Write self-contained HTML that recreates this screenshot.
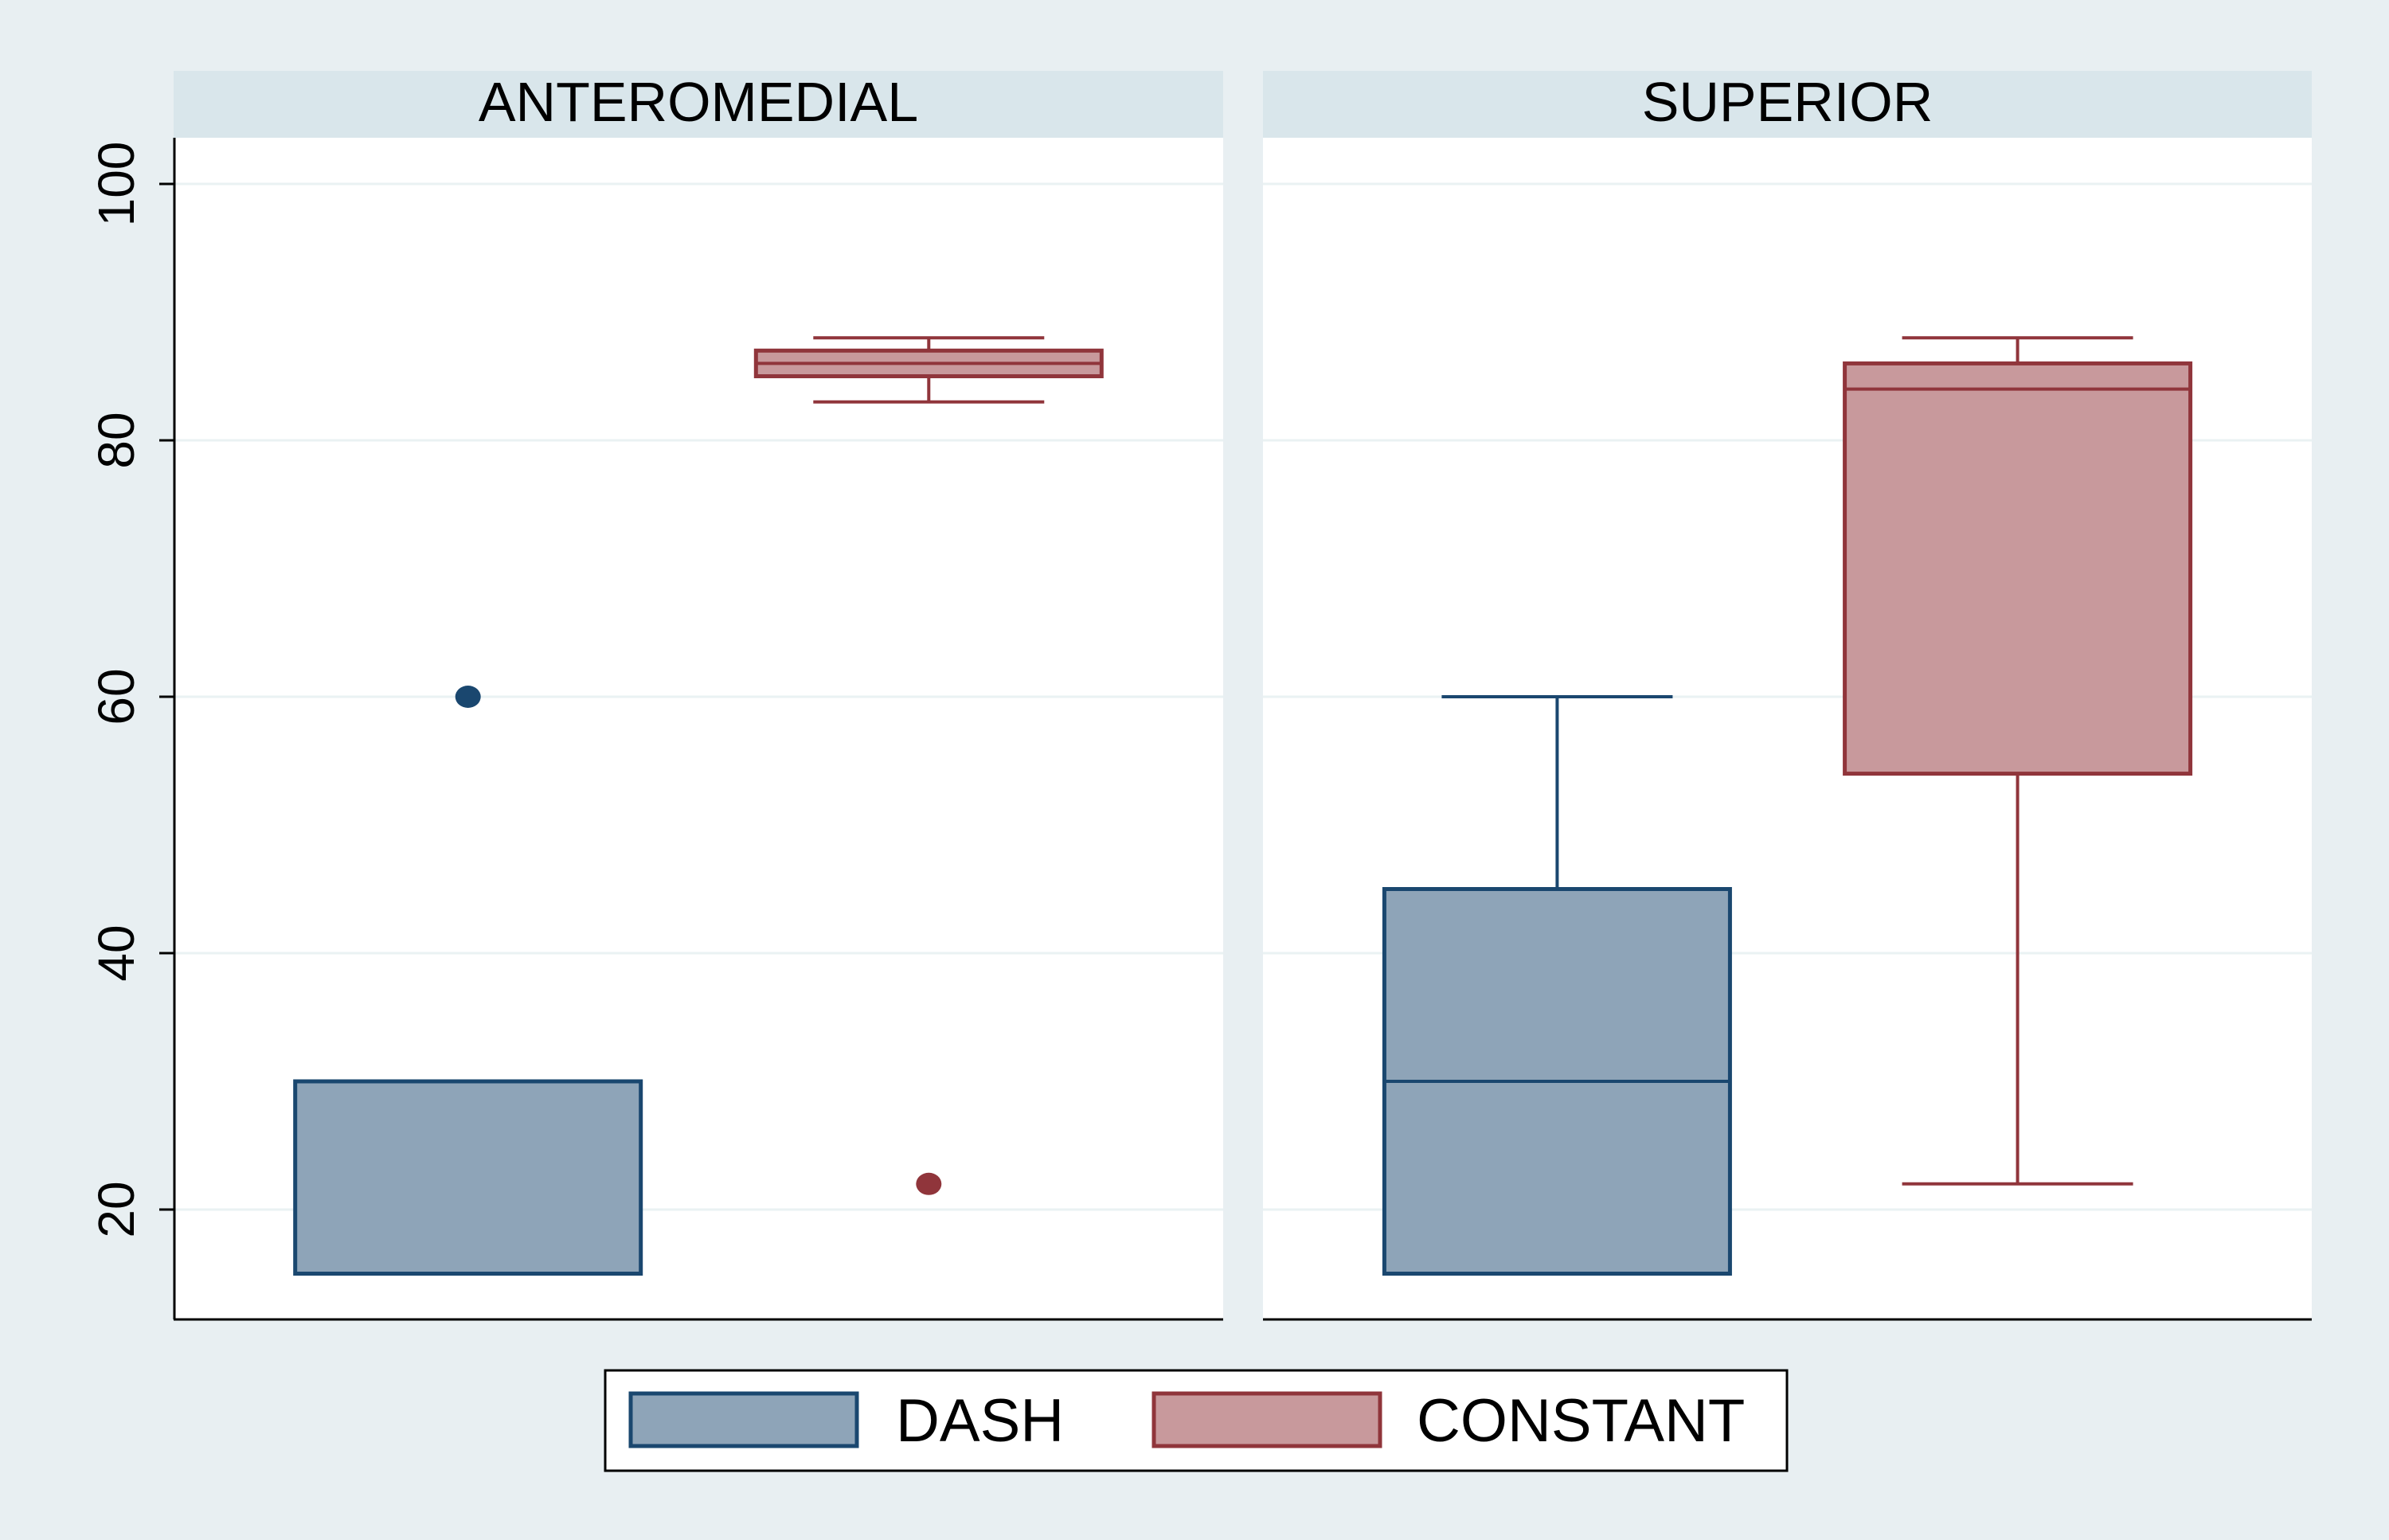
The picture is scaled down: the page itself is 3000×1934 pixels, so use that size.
<!DOCTYPE html>
<html><head><meta charset="utf-8"><style>
html,body{margin:0;padding:0;background:#e8eff2;}
svg{display:block;font-family:"Liberation Sans",sans-serif;}
</style></head><body>
<svg id="chart" width="3000" height="1934" viewBox="0 0 3000 1934">
<rect x="0" y="0" width="3000" height="1934" fill="#e8eff2"/>
<g id="g"></g>
</svg>
<script>
const panels = ["ANTEROMEDIAL", "SUPERIOR"];
const series = ["DASH", "CONSTANT"];
// [min whisker, q1, median, q3, max whisker]
const dashStats = [[15, 15, 15, 30, 30], [15, 15, 30, 45, 60]];
const constantStats = [[83, 85, 86, 87, 88], [22, 54, 84, 86, 88]];
const dashOutliers = [[60], []];
const constantOutliers = [[22], []];
const yTicks = [20, 40, 60, 80, 100];

const NS = "http://www.w3.org/2000/svg";
const g = document.getElementById("g");
function el(tag, attrs, parent) {
  const e = document.createElementNS(NS, tag);
  for (const k in attrs) e.setAttribute(k, attrs[k]);
  (parent || g).appendChild(e);
  return e;
}
const plotTop = 173, plotBottom = 1657;
function y(v) { return 1519 - (v - 20) * (1519 - 231) / 80; }
const panelX = [[218, 1536], [1586, 2903]];
const colors = {
  DASH: { fill: "#8ea4b8", stroke: "#1a476f" },
  CONSTANT: { fill: "#c8999c", stroke: "#90353b" }
};
const allStats = { DASH: dashStats, CONSTANT: constantStats };
const allOut = { DASH: dashOutliers, CONSTANT: constantOutliers };

panels.forEach((name, p) => {
  const [x0, x1] = panelX[p];
  const w = x1 - x0;
  const strip = el("rect", { x: x0, y: 89, width: w, height: 84, fill: "#d9e6eb" });
  
  
  const t = el("text", { x: x0 + w / 2, y: 152, "font-size": 70, "text-anchor": "middle", fill: "#000" });
  t.textContent = name;
  
  
  const pa = el("rect", { x: x0, y: plotTop, width: w, height: plotBottom - plotTop, fill: "#ffffff" });
  
  
  yTicks.forEach(v => {
    const gl = el("line", { x1: x0, x2: x1, y1: y(v), y2: y(v), stroke: "#eaf2f3", "stroke-width": 3 });
    
    
  });
  const xa = el("line", { x1: x0, x2: x1, y1: plotBottom, y2: plotBottom, stroke: "#000", "stroke-width": 3 });
  
  

  series.forEach((s, si) => {
    const cx = x0 + w * (si === 0 ? 0.2805 : 0.7195);
    const bw = 434, cw = 290;
    const st = allStats[s][p];
    const c = colors[s];
    const grp = el("g", {});
    
    
    if (st[4] > st[3]) {
      el("line", { x1: cx, x2: cx, y1: y(st[4]), y2: y(st[3]), stroke: c.stroke, "stroke-width": 4 }, grp);
      el("line", { x1: cx - cw / 2, x2: cx + cw / 2, y1: y(st[4]), y2: y(st[4]), stroke: c.stroke, "stroke-width": 4 }, grp);
    }
    if (st[0] < st[1]) {
      el("line", { x1: cx, x2: cx, y1: y(st[1]), y2: y(st[0]), stroke: c.stroke, "stroke-width": 4 }, grp);
      el("line", { x1: cx - cw / 2, x2: cx + cw / 2, y1: y(st[0]), y2: y(st[0]), stroke: c.stroke, "stroke-width": 4 }, grp);
    }
    el("rect", { x: cx - bw / 2, y: y(st[3]), width: bw, height: y(st[1]) - y(st[3]), fill: c.fill, stroke: c.stroke, "stroke-width": 5 }, grp);
    el("line", { x1: cx - bw / 2, x2: cx + bw / 2, y1: y(st[2]), y2: y(st[2]), stroke: c.stroke, "stroke-width": 4 }, grp);
    allOut[s][p].forEach(v => {
      const o = el("ellipse", { cx: cx, cy: y(v), rx: 16, ry: 14, fill: c.stroke });
      
      
    });
  });
});

// y axis
const ya = el("line", { x1: 219, x2: 219, y1: plotTop, y2: plotBottom, stroke: "#000", "stroke-width": 3 });


yTicks.forEach(v => {
  const tk = el("line", { x1: 200, x2: 219, y1: y(v), y2: y(v), stroke: "#000", "stroke-width": 3 });
  
  
  const tl = el("text", { x: 0, y: 0, "font-size": 64, "text-anchor": "middle", fill: "#000",
    transform: "translate(168," + y(v) + ") rotate(-90)" });
  tl.textContent = v;
  
  
});

// legend
const lg = el("g", {});


el("rect", { x: 760, y: 1721, width: 1484, height: 126, fill: "#fff", stroke: "#000", "stroke-width": 3 }, lg);
const legendX = [[792, 1125], [1449, 1779]];
series.forEach((s, i) => {
  const k = el("rect", { x: legendX[i][0], y: 1750, width: 284, height: 66, fill: colors[s].fill, stroke: colors[s].stroke, "stroke-width": 5 }, lg);
  
  
  const lt = el("text", { x: legendX[i][1], y: 1810, "font-size": 76, fill: "#000" }, lg);
  lt.textContent = s;
  
  
});
</script>
</body></html>
